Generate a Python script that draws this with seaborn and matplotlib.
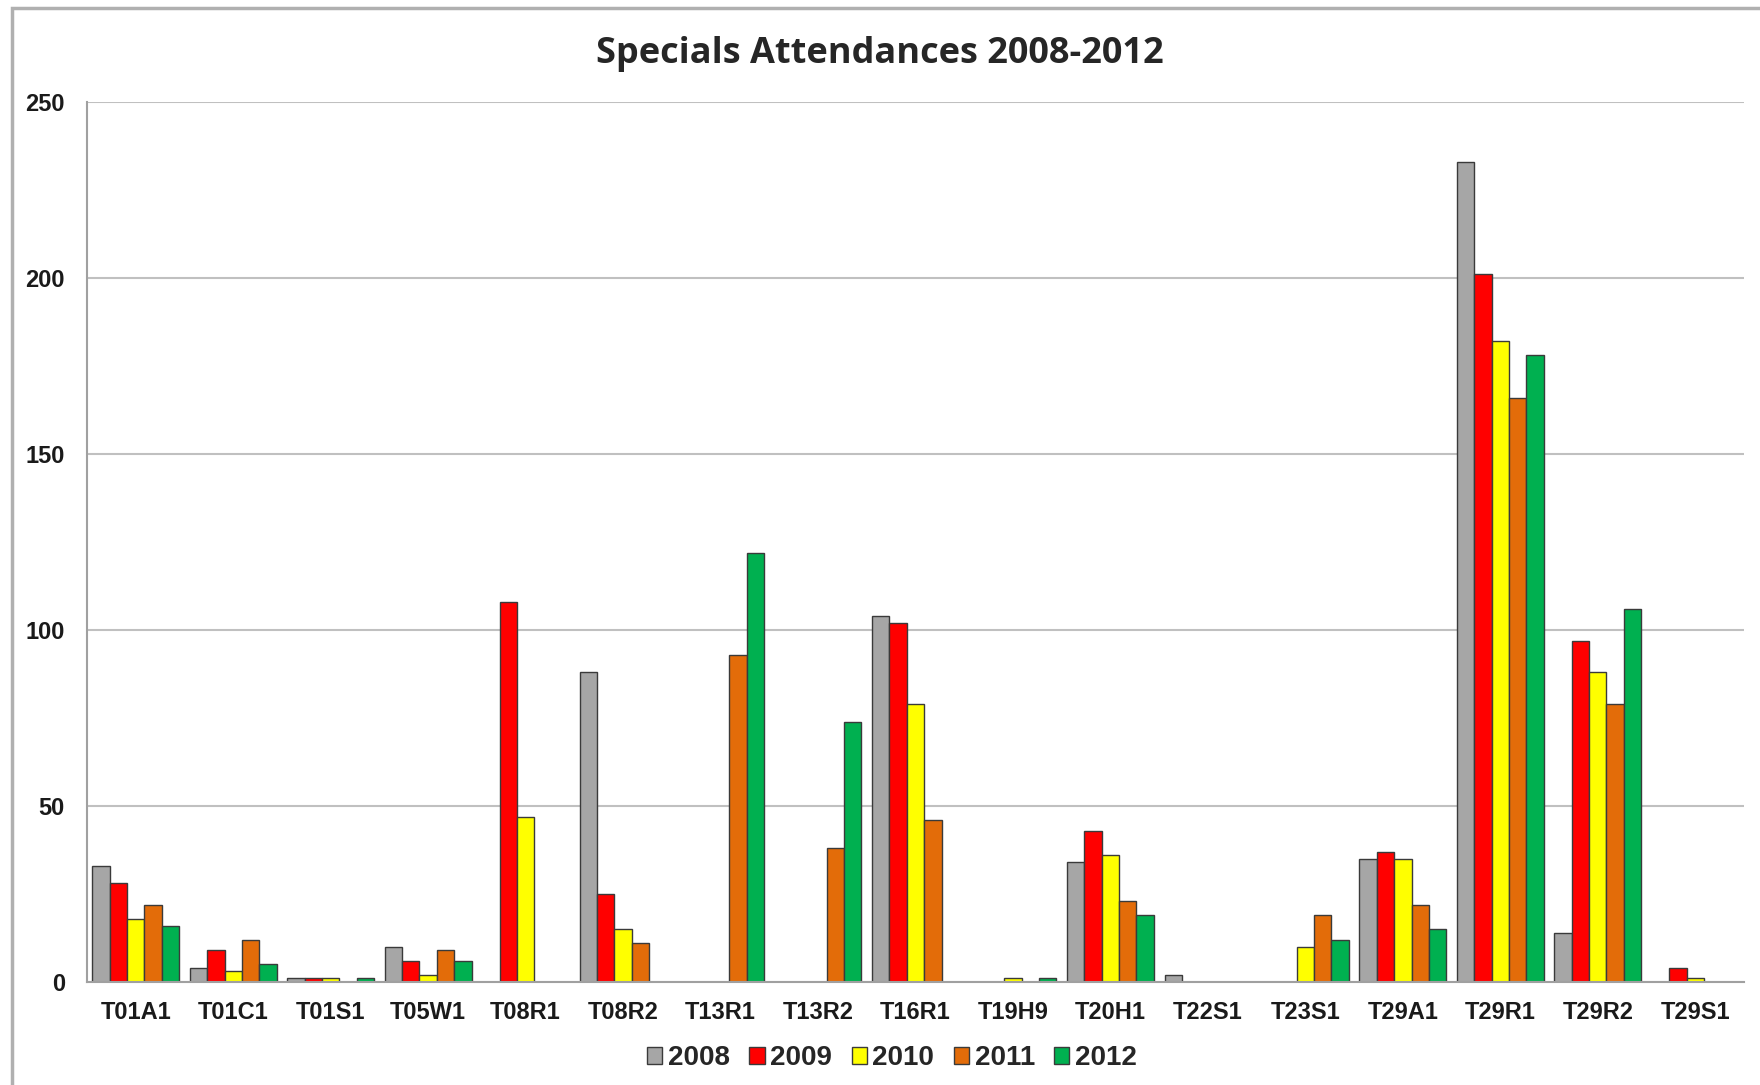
import matplotlib
matplotlib.use("Agg")
import matplotlib.pyplot as plt
import matplotlib.patches as mpatches
from matplotlib.ticker import FixedLocator
import seaborn as sns
import pandas as pd

# --- chart data ---
categories = ["T01A1", "T01C1", "T01S1", "T05W1", "T08R1", "T08R2", "T13R1", "T13R2", "T16R1",
              "T19H9", "T20H1", "T22S1", "T23S1", "T29A1", "T29R1", "T29R2", "T29S1"]
years = ["2008", "2009", "2010", "2011", "2012"]
v2008 = [33, 4, 1, 10, 0, 88, 0, 0, 104, 0, 34, 2, 0, 35, 233, 14, 0]
v2009 = [28, 9, 1, 6, 108, 25, 0, 0, 102, 0, 43, 0, 0, 37, 201, 97, 4]
v2010 = [18, 3, 1, 2, 47, 15, 0, 0, 79, 1, 36, 0, 10, 35, 182, 88, 1]
v2011 = [22, 12, 0, 9, 0, 11, 93, 38, 46, 0, 23, 0, 19, 22, 166, 79, 0]
v2012 = [16, 5, 1, 6, 0, 0, 122, 74, 0, 1, 19, 0, 12, 15, 178, 106, 0]
colors = ["#a6a6a6", "#ff0000", "#ffff00", "#e36c09", "#00b050"]
yticks = [0, 50, 100, 150, 200, 250]

rows = []
for year, vals in zip(years, [v2008, v2009, v2010, v2011, v2012]):
    for cat, v in zip(categories, vals):
        rows.append({"site": cat, "year": year, "count": v})
df = pd.DataFrame(rows)

sns.set_style("white")
plt.rcParams["font.family"] = ["Liberation Sans", "DejaVu Sans"]

fig = plt.figure(figsize=(17.6, 10.85), dpi=100)
ax = fig.add_axes([87 / 1760, 1 - 982 / 1085, (1744 - 87) / 1760, (982 - 102) / 1085])

sns.barplot(data=df, x="site", y="count", hue="year", order=categories, hue_order=years,
            palette=colors, width=0.89, edgecolor="#3a3a3a", linewidth=1.0,
            saturation=1, legend=False, ax=ax)

ax.set_ylim(0, 250)
ax.set_xlim(-0.5, len(categories) - 0.5)
ax.set_yticks(yticks)
ax.yaxis.grid(True, color="#c0c0c0", linewidth=1.5)
ax.set_axisbelow(True)
for s in ["top", "right"]:
    ax.spines[s].set_visible(False)
ax.spines["left"].set_color("#a0a0a0")
ax.spines["bottom"].set_color("#a0a0a0")
ax.spines["left"].set_linewidth(1.5)
ax.spines["bottom"].set_linewidth(1.5)

ax.set_xlabel("")
ax.set_ylabel("")
ax.tick_params(axis="y", length=8, color="#a0a0a0", width=1.2, pad=8, labelsize=17)
ax.tick_params(axis="x", length=0, pad=14, labelsize=17)
ax.xaxis.set_minor_locator(FixedLocator([i - 0.5 for i in range(len(categories) + 1)]))
ax.tick_params(axis="x", which="minor", length=7, color="#a0a0a0", width=1.2)
for lab in ax.get_xticklabels() + ax.get_yticklabels():
    lab.set_fontweight("bold")
    lab.set_color("#1a1a1a")

fig.text(0.5, 1 - 54 / 1085, "Specials Attendances 2008-2012", ha="center", va="center",
         fontsize=26, fontweight="bold", family=["Open Sans", "DejaVu Sans"])

handles = [mpatches.Patch(facecolor=c, edgecolor="#3a3a3a", linewidth=1.0, label=y)
           for c, y in zip(colors, years)]
fig.legend(handles=handles, loc="center", bbox_to_anchor=(0.5 + 12 / 1760, 1 - 1058 / 1085), ncol=5,
           frameon=False, prop={"weight": "bold", "size": 20}, handlelength=0.55,
           handleheight=0.55, handletextpad=0.2, columnspacing=0.7)

# outer chart border (left and top edges visible)
fig.patches.append(mpatches.Rectangle((12 / 1760, -0.1), 1.2, 1.1 - 8 / 1085,
                                      transform=fig.transFigure, fill=False,
                                      edgecolor="#b0b0b0", linewidth=2.5))

fig.savefig("out.png", dpi=100)
